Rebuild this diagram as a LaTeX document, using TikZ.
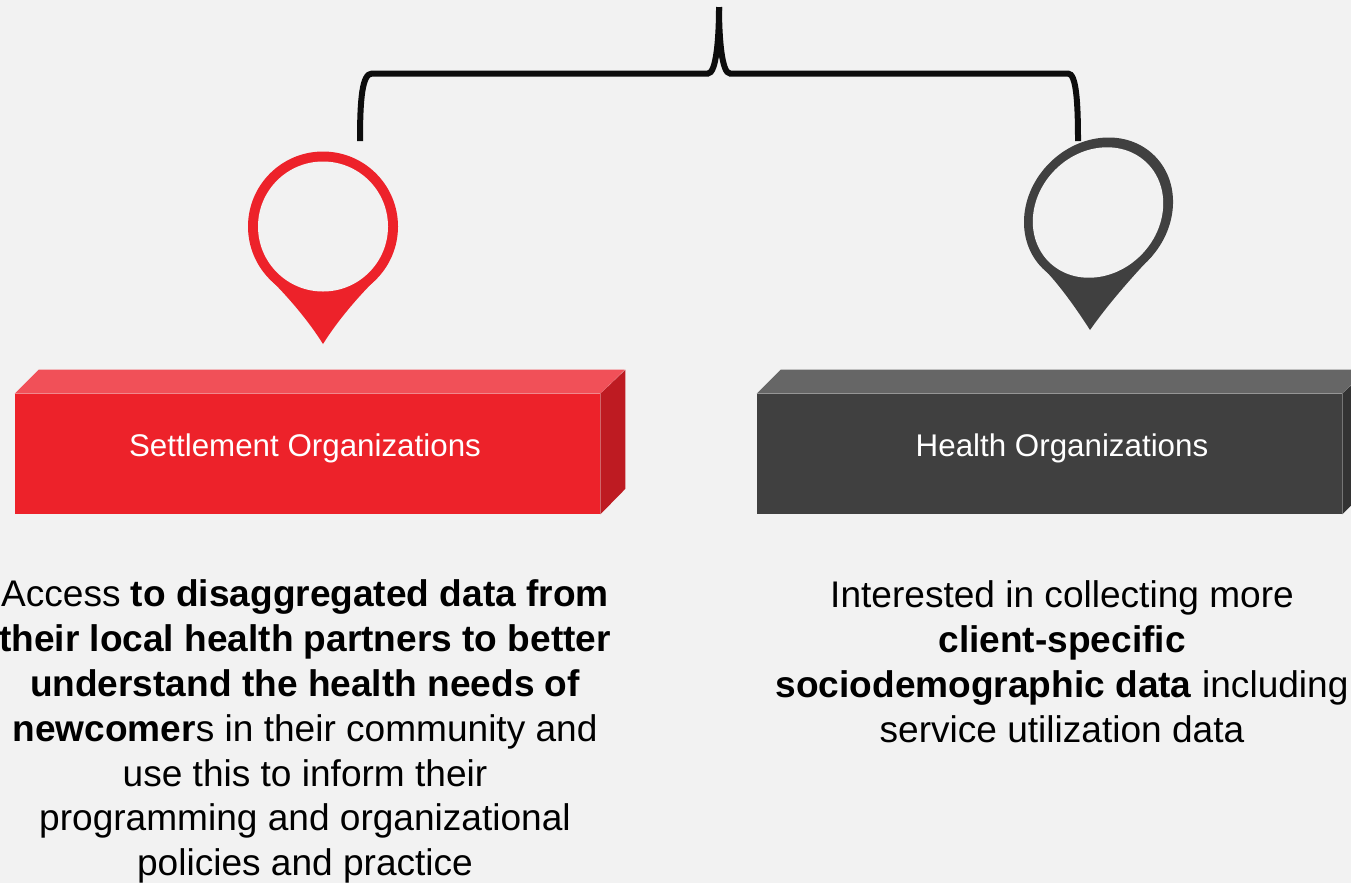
\documentclass[tikz,border=0pt]{standalone}
\usepackage{fontspec}
\setmainfont{Liberation Sans}
\definecolor{bgcol}{HTML}{F2F2F2}
\definecolor{redcol}{HTML}{ED222A}
\definecolor{redtop}{HTML}{F15058}
\definecolor{redside}{HTML}{BE1B22}
\definecolor{darkcol}{HTML}{404040}
\definecolor{darktop}{HTML}{666666}
\definecolor{darkside}{HTML}{333333}
\colorlet{bracecol}{black!95!white}
\tikzstyle{boxfront}=[rectangle, inner sep=0pt, minimum width=439pt, minimum height=90pt]
\tikzstyle{boxlabel}=[inner sep=0pt, text=white, font=\fontsize{23.5}{28}\selectfont]
\tikzstyle{bodytext}=[align=center, inner sep=0pt, text=black, font=\fontsize{27.8}{33.7}\selectfont]
\tikzstyle{brace}=[line width=4.5pt,bracecol]

\begin{document}
\begin{tikzpicture}[x=0.75pt,y=-0.75pt]
			\fill[bgcol] (0,0) rectangle (1351,883);
			\useasboundingbox (0,0) rectangle (1351,883);

			% Brace
			\coordinate (bracetop) at (719,7);
			\coordinate (braceleft) at (360,141);
			\coordinate (braceright) at (1078,141);
			\draw[brace] (bracetop) .. controls (719,40) and (716,73.5) .. (708,73.5) -- (372,73.5) .. controls (362,73.5) and (360,100) .. (braceleft);
			\draw[brace] (bracetop) .. controls (719,40) and (722,73.5) .. (730,73.5) -- (1068,73.5) .. controls (1076,73.5) and (1078,100) .. (braceright);

			% Red pin
			\fill[redcol] (323,226.5) circle [radius=75];
			\fill[redcol] (270,279) .. controls (288,297) and (308,320) .. (323,344) .. controls (338,320) and (358,297) .. (376,279) -- cycle;
			\fill[bgcol] (323,226.5) circle [radius=65];

			% Dark pin
			\fill[darkcol, rotate around={45:(1098.5,212)}] (1098.5,212) ellipse [x radius=79.4, y radius=69.3];
			\fill[darkcol] (1042,267) .. controls (1057,282) and (1074,305) .. (1090,330) .. controls (1106,307) and (1130,279) .. (1152,256) -- cycle;
			\fill[bgcol, rotate around={45:(1098,212.5)}] (1098,212.5) ellipse [x radius=69.6, y radius=60.5];

			% Boxes
			\node[boxfront, fill=redcol] (settlement) at (307.5,454) {};
			\node[boxfront, fill=darkcol] (health) at (1049.5,454) {};
			\fill[redtop] (settlement.north west) -- ++(24,-24) -- ++(586,0) -- (settlement.north east) -- cycle;
			\fill[redside] (settlement.north east) -- ++(25,-24) -- ++(0,119) -- (settlement.south east) -- cycle;
			\fill[darktop] (health.north west) -- ++(24,-24) -- ++(586,0) -- (health.north east) -- cycle;
			\fill[darkside] (health.north east) -- ++(25,-24) -- ++(0,119) -- (health.south east) -- cycle;
			\node[boxlabel] (settlementlabel) at (305,448.5) {Settlement Organizations};
			\node[boxlabel] (healthlabel) at (1062,448.5) {Health Organizations};

			% Texts
			\node[bodytext] (settlementtext) at (305,731.5) {Access \textbf{to disaggregated data from}\\ \textbf{their local health partners to better}\\ \textbf{understand the health needs of}\\ \textbf{newcomer}s in their community and\\ use this to inform their\\ programming and organizational\\ policies and practice};
			\node[bodytext] (healthtext) at (1062,662) {Interested in collecting more\\ \textbf{client-specific}\\ \textbf{sociodemographic data} including\\ service utilization data};
\end{tikzpicture}
\end{document}
